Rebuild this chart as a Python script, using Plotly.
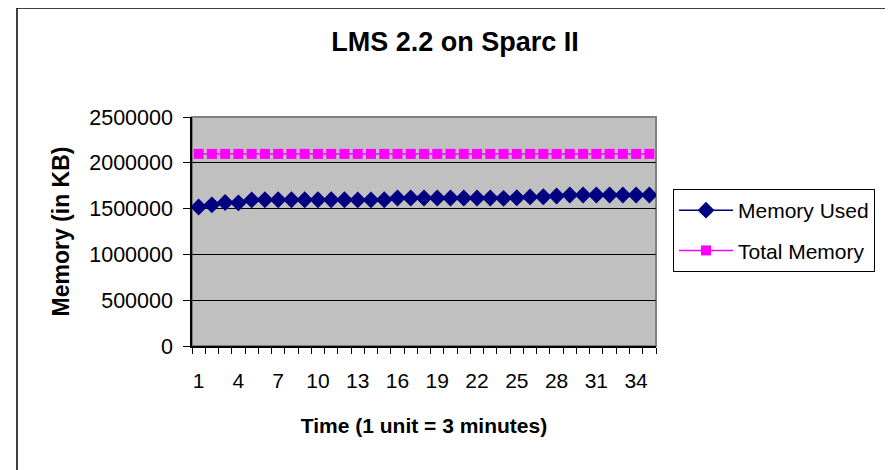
import plotly.graph_objects as go

time_units = list(range(1, 36))
memory_used = [1518000, 1541000, 1566000, 1563000, 1595000, 1596000, 1596000, 1596000,
               1596000, 1596000, 1596000, 1596000, 1595000, 1595000, 1596000, 1615000,
               1615000, 1615000, 1615000, 1615000, 1615000, 1615000, 1616000, 1612000,
               1618000, 1628000, 1630000, 1637000, 1649000, 1649000, 1649000, 1649000,
               1649000, 1649000, 1649000]
total_memory = [2097152, 2097152, 2097152, 2097152, 2097152, 2097152, 2097152, 2097152,
                2097152, 2097152, 2097152, 2097152, 2097152, 2097152, 2097152, 2097152,
                2097152, 2097152, 2097152, 2097152, 2097152, 2097152, 2097152, 2097152,
                2097152, 2097152, 2097152, 2097152, 2097152, 2097152, 2097152, 2097152,
                2097152, 2097152, 2097152]
x_tick_labels = [1, 4, 7, 10, 13, 16, 19, 22, 25, 28, 31, 34]
y_ticks = [0, 500000, 1000000, 1500000, 2000000, 2500000]

FONT = "Arial, 'Liberation Sans', sans-serif"

fig = go.Figure()
fig.add_trace(go.Scatter(
    x=time_units, y=memory_used, name="Memory Used", mode="lines+markers",
    legendgroup="a",
    line=dict(color="#000080", width=1.5),
    marker=dict(symbol="diamond", size=13, color="#000080"),
))
fig.add_trace(go.Scatter(
    x=time_units, y=total_memory, name="Total Memory", mode="lines+markers",
    legendgroup="b",
    line=dict(color="#FF00FF", width=1.5),
    marker=dict(symbol="square", size=10, color="#FF00FF"),
))

OFF = 8  # page body margin
W, H = 893, 470
L, R, T, B = 192 - OFF, 656 - OFF, 117 - OFF, 346 - OFF
pw, ph = R - L, B - T

def px_x(p):
    return (p - OFF - L) / pw

def px_y(p):
    return (B - (p - OFF)) / ph

shapes = [
    dict(type="rect", xref="paper", yref="paper",
         x0=px_x(17), x1=px_x(890), y0=px_y(490), y1=px_y(8),
         line=dict(color="black", width=1.5), fillcolor="rgba(0,0,0,0)", layer="below"),
    dict(type="rect", xref="paper", yref="paper", x0=0, x1=1, y0=0, y1=1,
         line=dict(color="#808080", width=2), fillcolor="#C0C0C0", layer="below"),
]

fig.update_layout(
    width=W, height=H,
    margin=dict(l=L, r=W - R, t=T, b=H - B, autoexpand=False),
    paper_bgcolor="white", plot_bgcolor="#C0C0C0",
    font=dict(family=FONT, color="black", size=20),
    title=dict(text="<b>LMS 2.2 on Sparc II</b>", x=(455 - OFF) / W, xanchor="center",
               y=1 - (42 - OFF) / H, yanchor="middle", yref="container",
               font=dict(family=FONT, size=27, color="black")),
    showlegend=True,
    legend=dict(x=px_x(673), y=px_y(189), xanchor="left", yanchor="top",
                bordercolor="black", borderwidth=1, bgcolor="white",
                font=dict(family=FONT, size=21, color="black"),
                traceorder="grouped", tracegroupgap=10,
                itemwidth=54),
    shapes=shapes,
)

fig.update_xaxes(
    range=[0.5, 35.5], tickmode="array", tickvals=x_tick_labels,
    ticktext=[str(v) for v in x_tick_labels], ticks="",
    ticklabelstandoff=15,
    showgrid=False, zeroline=False,
    showline=True, linecolor="black", linewidth=1.5,
    minor=dict(tickmode="linear", tick0=0.5, dtick=1, ticks="outside",
               ticklen=6, tickcolor="black", tickwidth=1, showgrid=False),
    tickfont=dict(family=FONT, size=21, color="black"),
    title=dict(text="<b>Time (1 unit = 3 minutes)</b>", standoff=27,
               font=dict(family=FONT, size=21, color="black")),
)
fig.update_yaxes(
    range=[0, 2500000], tickmode="array", tickvals=y_ticks,
    ticktext=[str(v) for v in y_ticks],
    ticks="outside", ticklen=7, tickcolor="black", ticklabelstandoff=6,
    showgrid=True, gridcolor="black", gridwidth=1, zeroline=False,
    showline=True, linecolor="black", linewidth=1.5,
    tickfont=dict(family=FONT, size=21.5, color="black"),
    title=dict(text="<b>Memory (in KB)</b>", standoff=13,
               font=dict(family=FONT, size=23, color="black")),
)

fig.write_html("out.html")
